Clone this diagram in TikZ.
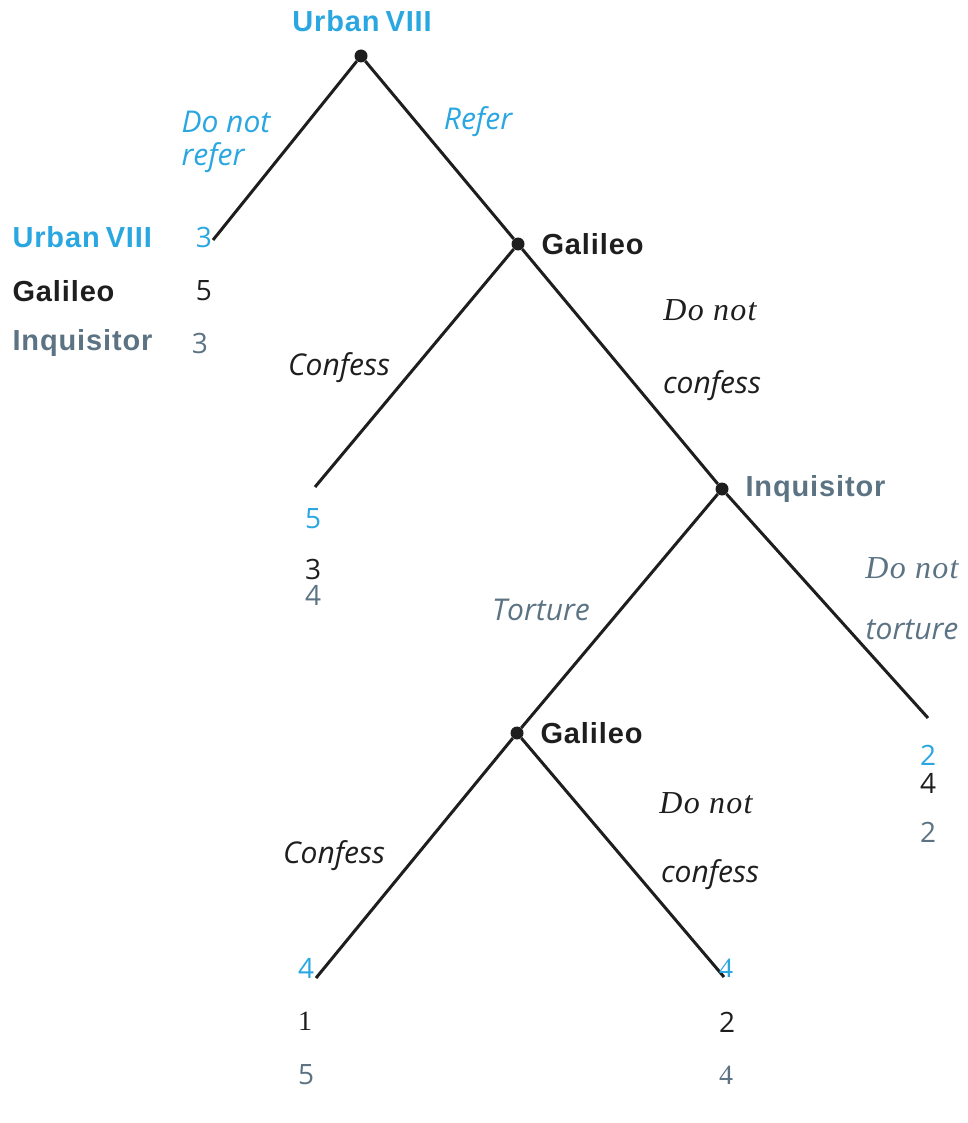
\documentclass[tikz,border=0pt]{standalone}
\usepackage{fontspec}
\setmainfont{Liberation Sans}
\newfontfamily\namefont{Liberation Sans}[LetterSpace=3]
\newfontfamily\movefont{Open Sans}
\newfontfamily\donotfont{Liberation Serif}[LetterSpace=4]
\definecolor{urbancol}{HTML}{2AA7E0}
\definecolor{galcol}{HTML}{1E1E1E}
\definecolor{inqcol}{HTML}{5B7383}
\tikzset{
    dot/.style={circle,fill=galcol,inner sep=0pt,minimum size=13pt},
    edge/.style={line width=3pt,color=galcol},
    player/.style={font=\namefont\fontsize{29}{30}\selectfont\bfseries},
    move/.style={font=\movefont\itshape\fontsize{30}{32}\selectfont},
    donot/.style={font=\donotfont\itshape\fontsize{32}{32}\selectfont},
    pay/.style={font=\movefont\fontsize{28}{30}\selectfont},
    serifpay/.style={font=\donotfont\fontsize{28}{30}\selectfont},
}
\newcommand\UrbanName{Urban\hspace{6pt}VIII}

\begin{document}
\begin{tikzpicture}[x=1pt,y=-1pt]
    \useasboundingbox (0,0) rectangle (967,1123);
    % decision nodes and leaves
    \node[dot] (root) at (361,56) {};
    \node[dot] (gal) at (518,244) {};
    \node[dot] (inq) at (722,489) {};
    \node[dot] (galb) at (517,733) {};
    \coordinate (norefer) at (213,240);
    \coordinate (confess) at (315,487);
    \coordinate (notorture) at (928,718);
    \coordinate (confessb) at (316,978);
    \coordinate (noconfessb) at (724,977);
    \draw[edge] (root) -- (norefer);
    \draw[edge] (root) -- (gal);
    \draw[edge] (gal) -- (confess);
    \draw[edge] (gal) -- (inq);
    \draw[edge] (inq) -- (galb);
    \draw[edge] (inq) -- (notorture);
    \draw[edge] (galb) -- (confessb);
    \draw[edge] (galb) -- (noconfessb);
    % players
    \node[player,urbancol] (uname) at (362,21) {\UrbanName};
    \node[player,galcol,anchor=west] (gname) at (538,244) {Galileo};
    \node[player,inqcol,anchor=west] (iname) at (742,489) {Inquisitor};
    \node[player,galcol,anchor=west] (gbname) at (537,733) {Galileo};
    \begin{scope}[color=urbancol] % Urban VIII moves
        \node[move,anchor=west] (m1) at (178,122) {Do not};
        \node[move,anchor=west] (m2) at (178,158) {refer};
        \node[move] (m3) at (478,122) {Refer};
    \end{scope}
    \begin{scope}[color=galcol] % Galileo moves
        \node[move] (m4) at (339,368) {Confess};
        \node[donot] (m5) at (710,310) {Do not};
        \node[move] (m6) at (712,386) {confess};
        \node[move] (m7) at (334,856) {Confess};
        \node[donot] (m8) at (706,803) {Do not};
        \node[move] (m9) at (710,875) {confess};
    \end{scope}
    \begin{scope}[color=inqcol] % Inquisitor moves
        \node[move] (m10) at (541,610) {Torture};
        \node[donot] (m11) at (912,568) {Do not};
        \node[move] (m12) at (912,630) {torture};
    \end{scope}
    % payoff legend
    \node[player,urbancol,anchor=west] (lu) at (9,237) {\UrbanName};
    \node[player,galcol,anchor=west] (lg) at (9,291) {Galileo};
    \node[player,inqcol,anchor=west] (li) at (9,343) {Inquisitor};
    \node[pay,urbancol] (pa1) at (204,237) {3};
    \node[pay,galcol] (pa2) at (204,291) {5};
    \node[pay,inqcol] (pa3) at (200,343) {3};
    % payoffs at the leaves
    \node[pay,urbancol] (pb1) at (313,519) {5};
    \node[pay,galcol] (pb2) at (313,569) {3};
    \node[pay,inqcol] (pb3) at (313,595) {4};
    \node[pay,urbancol] (pc1) at (928,755) {2};
    \node[pay,galcol] (pc2) at (928,783) {4};
    \node[pay,inqcol] (pc3) at (928,832) {2};
    \node[pay,urbancol] (pd1) at (306,968) {4};
    \node[serifpay,galcol] (pd2) at (305,1021) {1};
    \node[pay,inqcol] (pd3) at (306,1075) {5};
    \node[serifpay,urbancol] (pe1) at (726,968) {4};
    \node[pay,galcol] (pe2) at (727,1022) {2};
    \node[serifpay,inqcol] (pe3) at (726,1075) {4};
\end{tikzpicture}
\end{document}
